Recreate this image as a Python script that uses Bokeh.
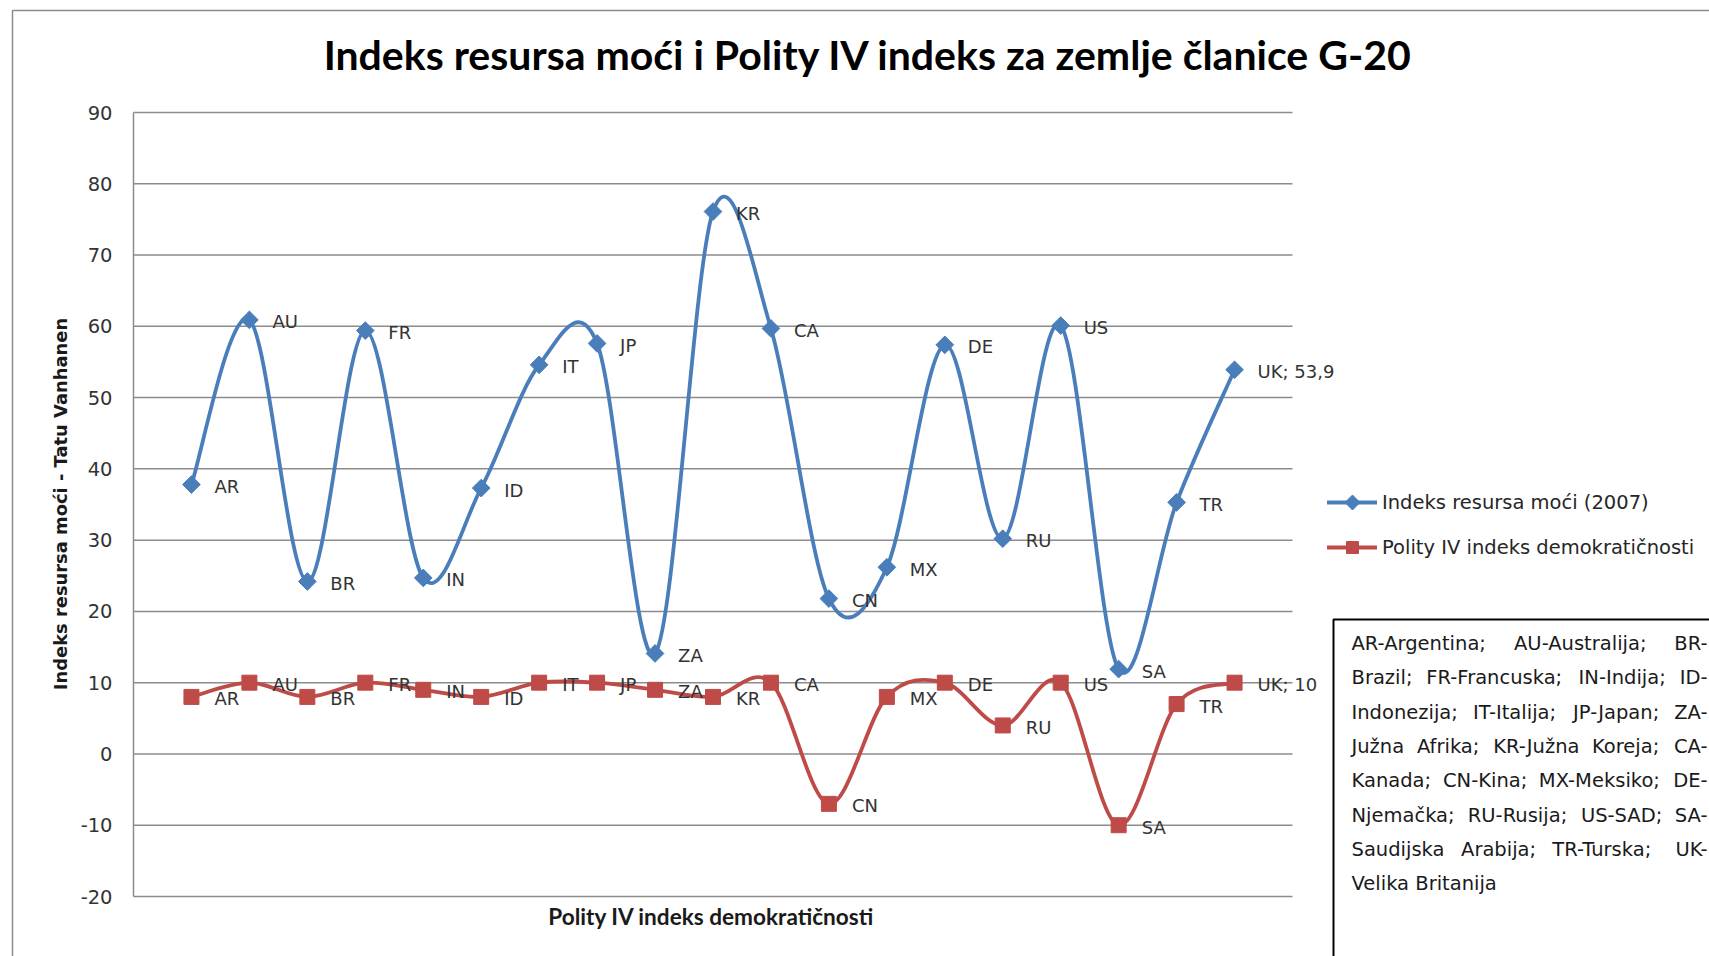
import numpy as np
from bokeh.plotting import figure
from bokeh.models import (ColumnDataSource, LabelSet, Label, Legend, LegendItem,
                          Range1d, BoxAnnotation, PolyAnnotation)
from bokeh.core.properties import value
from bokeh.embed import file_html
from bokeh.resources import INLINE

# ---- data -------------------------------------------------------------
countries = ["AR", "AU", "BR", "FR", "IN", "ID", "IT", "JP", "ZA", "KR",
             "CA", "CN", "MX", "DE", "RU", "US", "SA", "TR", "UK"]
power_index = [37.8, 60.9, 24.2, 59.4, 24.7, 37.3, 54.6, 57.6, 14.1, 76.1,
               59.7, 21.8, 26.2, 57.4, 30.2, 60.1, 11.9, 35.3, 53.9]
polity_index = [8, 10, 8, 10, 9, 8, 10, 10, 9, 8,
                10, -7, 8, 10, 4, 10, -10, 7, 10]
y_ticks = [-20, -10, 0, 10, 20, 30, 40, 50, 60, 70, 80, 90]
series_names = ["Indeks resursa moći (2007)", "Polity IV indeks demokratičnosti"]
chart_title = "Indeks resursa moći i Polity IV indeks za zemlje članice G-20"
y_title = "Indeks resursa moći - Tatu Vanhanen"
x_title = "Polity IV indeks demokratičnosti"
note_lines = [
    "AR-Argentina; AU-Australija; BR-",
    "Brazil; FR-Francuska; IN-Indija; ID-",
    "Indonezija; IT-Italija; JP-Japan; ZA-",
    "Južna Afrika; KR-Južna Koreja; CA-",
    "Kanada; CN-Kina; MX-Meksiko; DE-",
    "Njemačka; RU-Rusija; US-SAD; SA-",
    "Saudijska Arabija; TR-Turska; UK-",
    "Velika Britanija",
]

# ---- page geometry ----------------------------------------------------
W, H = 1709, 956
PL, PR, PT, PB = 133, 1292, 112, 896      # plot area edges on the page
BLUE, RED, GRID = "#4A7EBB", "#BE4B48", "#8c8c8c"
LABEL_FONT = "DejaVu Sans"

y_lo, y_hi = y_ticks[0], y_ticks[-1]
x_lo, x_hi = 0, len(countries) + 1
px_x = (PR - PL) / (x_hi - x_lo)
px_y = (PB - PT) / (y_hi - y_lo)


def sy(cy):
    """page y (top-down) -> screen units (bottom-up)"""
    return H - cy


def fmt(v):
    return f"{v:g}".replace(".", ",")


def smooth_segments(xs, ys):
    """Cubic Bezier pieces through the points (Catmull-Rom tangents)."""
    xs = np.asarray(xs, float)
    ys = np.asarray(ys, float)
    n = len(xs)
    xp = np.concatenate([[xs[0]], xs, [xs[-1]]])
    yp = np.concatenate([[ys[0]], ys, [ys[-1]]])
    return dict(
        x0=xs[:-1], y0=ys[:-1], x1=xs[1:], y1=ys[1:],
        cx0=xp[1:n] + (xp[2:n + 1] - xp[0:n - 1]) / 6.0,
        cy0=yp[1:n] + (yp[2:n + 1] - yp[0:n - 1]) / 6.0,
        cx1=xp[2:n + 1] - (xp[3:n + 2] - xp[1:n]) / 6.0,
        cy1=yp[2:n + 1] - (yp[3:n + 2] - yp[1:n]) / 6.0,
    )


x = np.arange(1, len(countries) + 1)

# the frame fills the whole page; ranges are set so the plot area sits at PL..PR, PT..PB
p = figure(width=W, height=H, output_backend="svg", toolbar_location=None, title=None,
           x_axis_location=None, y_axis_location=None,
           x_range=Range1d(x_lo - PL / px_x, x_hi + (W - PR) / px_x),
           y_range=Range1d(y_lo - (H - PB) / px_y, y_hi + PT / px_y),
           min_border=0, min_border_left=0, min_border_right=0,
           min_border_top=0, min_border_bottom=0)
p.outline_line_color = None
p.grid.visible = False
p.background_fill_color = "white"
p.border_fill_color = "white"

# outer chart border
p.add_layout(BoxAnnotation(left=12, right=W + 50, top=sy(10), bottom=-50,
                           left_units="screen", right_units="screen",
                           top_units="screen", bottom_units="screen",
                           fill_color=None, line_color=GRID, line_alpha=1.0,
                           line_width=1.5, level="underlay"))

# value axis: gridlines, axis line and tick labels
p.segment(x0=x_lo, x1=x_hi, y0=y_ticks, y1=y_ticks, line_color=GRID, line_width=1.5)
p.segment(x0=[x_lo], x1=[x_lo], y0=[y_lo], y1=[y_hi], line_color=GRID, line_width=1.5)
p.text(x=x_lo, y=y_ticks, text=[str(t) for t in y_ticks], x_offset=-21,
       text_align="right", text_baseline="middle", text_font=value(LABEL_FONT),
       text_font_size="19.5px", text_color="#333333")

# axis titles
p.add_layout(Label(x=60, y=sy(503.5), x_units="screen", y_units="screen",
                   text=y_title, angle=np.pi / 2, text_align="center",
                   text_baseline="middle", text_font="DejaVu Sans",
                   text_font_style="bold", text_font_size="17.9px",
                   text_color="#1a1a1a"))
p.add_layout(Label(x=711, y=sy(915.5), x_units="screen", y_units="screen",
                   text=x_title, text_align="center", text_baseline="middle",
                   text_font="Lato", text_font_style="bold", text_font_size="22.6px",
                   text_color="#1a1a1a"))

# smoothed series with markers
line_b = p.bezier(source=ColumnDataSource(smooth_segments(x, power_index)),
                  x0="x0", y0="y0", x1="x1", y1="y1",
                  cx0="cx0", cy0="cy0", cx1="cx1", cy1="cy1",
                  line_color=BLUE, line_width=3.8, line_cap="round")
mk_b = p.scatter(x, power_index, marker="square", angle=np.pi / 4, size=12.5,
                 color=BLUE)
line_r = p.bezier(source=ColumnDataSource(smooth_segments(x, polity_index)),
                  x0="x0", y0="y0", x1="x1", y1="y1",
                  cx0="cx0", cy0="cy0", cx1="cx1", cy1="cy1",
                  line_color=RED, line_width=3.8, line_cap="round")
mk_r = p.scatter(x, polity_index, marker="square", size=15, color=RED)

# data labels
for vals in (power_index, polity_index):
    texts = list(countries[:-1]) + [f"{countries[-1]}; {fmt(vals[-1])}"]
    src = ColumnDataSource(dict(x=x, y=vals, t=texts))
    p.add_layout(LabelSet(x="x", y="y", text="t", source=src, x_offset=23, y_offset=-2,
                          text_baseline="middle", text_align="left",
                          text_font=value(LABEL_FONT), text_font_size=value("18px"),
                          text_color="#333333"))

# chart title
p.add_layout(Label(x=868, y=sy(54), x_units="screen", y_units="screen",
                   text=chart_title, text_font="Lato", text_font_style="bold",
                   text_font_size="41px", text_align="center", text_baseline="middle",
                   text_color="#000000"))

# legend
LEG_L, LEG_T, LEG_ROW, LEG_GAP, LEG_GLYPH = 1327, 487, 30, 15, 50
legend = Legend(items=[LegendItem(label=series_names[0], renderers=[line_b]),
                       LegendItem(label=series_names[1], renderers=[line_r, mk_r])],
                location=(LEG_L, sy(LEG_T + 2 * LEG_ROW + LEG_GAP)), orientation="vertical",
                glyph_width=LEG_GLYPH, glyph_height=LEG_ROW, label_height=LEG_ROW,
                spacing=LEG_GAP, padding=0, margin=0, label_standoff=5,
                border_line_color=None, background_fill_alpha=0,
                label_text_font=LABEL_FONT, label_text_font_size="19.5px",
                label_text_color="#262626")
p.add_layout(legend)
# diamond key on the first legend entry
kx, ky, kr = LEG_L + LEG_GLYPH / 2, LEG_T + LEG_ROW / 2, 7.5
p.add_layout(PolyAnnotation(xs=[kx, kx + kr, kx, kx - kr],
                            ys=[sy(ky - kr), sy(ky), sy(ky + kr), sy(ky)],
                            xs_units="screen", ys_units="screen",
                            fill_color=BLUE, fill_alpha=1.0,
                            line_color=BLUE, line_alpha=1.0, line_width=1))

# note box with country abbreviations (justified lines)
BOX_L, BOX_T = 1333, 619
TXT_L, TXT_R = 1351, 1707
NOTE_SIZE = 19.5
LINE_Y0, LINE_STEP = 643, 34.3
p.add_layout(BoxAnnotation(left=BOX_L, right=W + 50, top=sy(BOX_T), bottom=-50,
                           left_units="screen", right_units="screen",
                           top_units="screen", bottom_units="screen",
                           fill_color=None, line_color="#000000", line_alpha=1.0,
                           line_width=2))

adv = {" ": .318, "-": .361, ";": .337, "A": .684, "B": .686, "C": .698, "D": .770,
       "E": .632, "F": .575, "I": .295, "J": .295, "K": .656, "M": .863, "N": .748,
       "P": .603, "R": .695, "S": .635, "T": .611, "U": .732, "V": .684, "X": .685,
       "Z": .685, "a": .613, "b": .635, "c": .550, "d": .635, "e": .615, "f": .352,
       "g": .635, "h": .634, "i": .278, "j": .278, "k": .579, "l": .278, "m": .974,
       "n": .634, "o": .612, "p": .635, "r": .411, "s": .521, "t": .392, "u": .634,
       "v": .592, "z": .525, "č": .550, "ž": .525}


def text_width(s):
    return sum(adv.get(ch, .6) for ch in s) * NOTE_SIZE


left_words = dict(x=[], y=[], t=[])
right_words = dict(x=[], y=[], t=[])
for k, line in enumerate(note_lines):
    cy = LINE_Y0 + k * LINE_STEP
    words = line.split(" ")
    if k == len(note_lines) - 1:
        left_words["x"].append(TXT_L)
        left_words["y"].append(sy(cy))
        left_words["t"].append(line)
        continue
    widths = [text_width(w) for w in words]
    gap = (TXT_R - TXT_L - sum(widths)) / (len(words) - 1)
    pos = TXT_L
    for i, w in enumerate(words):
        last = i == len(words) - 1
        target = right_words if last else left_words
        target["x"].append(TXT_R if last else pos)
        target["y"].append(sy(cy))
        target["t"].append(w)
        pos += widths[i] + gap

for data, align in ((left_words, "left"), (right_words, "right")):
    p.add_layout(LabelSet(x="x", y="y", text="t", source=ColumnDataSource(data),
                          x_units="screen", y_units="screen",
                          text_align=value(align), text_baseline=value("middle"),
                          text_font=value(LABEL_FONT),
                          text_font_size=value(f"{NOTE_SIZE}px"),
                          text_color="#1a1a1a"))

open("out.html", "w").write(file_html(p, INLINE))
